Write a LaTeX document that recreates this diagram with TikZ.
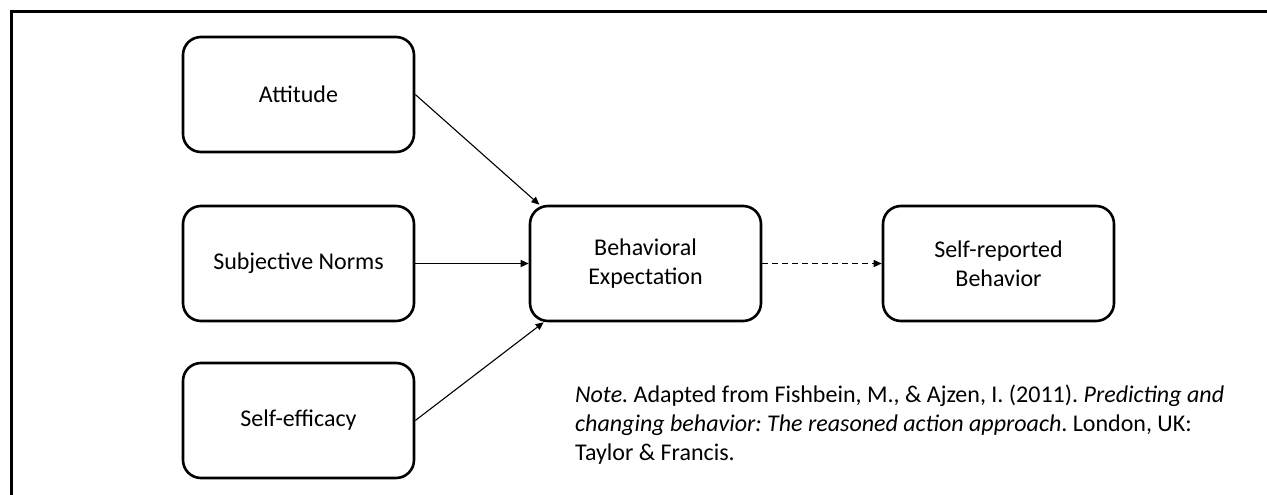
\documentclass[tikz,border=0pt]{standalone}
\usepackage{fontspec}
\setmainfont{Carlito}
\usetikzlibrary{positioning}
\usetikzlibrary{arrows.meta}

\begin{document}
\frenchspacing
\begin{tikzpicture}[x=1pt,y=-1pt,
factor/.style={draw, rounded corners=18pt, line width=2.6pt, minimum width=231pt, minimum height=115pt, align=center, inner sep=0pt, font=\fontsize{24}{29}\selectfont},
arr/.style={line width=1.1pt, -{Triangle[length=8pt,width=7pt]}},
note/.style={align=left, inner sep=0pt, font=\fontsize{24}{29}\selectfont}]
\useasboundingbox (0,0) rectangle (1267,495);

% frame
\draw[line width=2.6pt](11.5,495)--(11.5,11.5)--(1267,11.5);

\node[factor](attitude) at (298.5,94.5){Attitude};
\node[factor](norms) at (298.5,263.5){Subjective Norms};
\node[factor](efficacy) at (298.5,420.5){Self-efficacy};
\node[factor](expect) at (645.5,263.5){Behavioral\\Expectation};
\node[factor](behavior) at (998.5,263.5){Self-reported\\Behavior};

% last line sets the base
\node[note, anchor=base west](source) at (575,460){\textit{Note.} Adapted from Fishbein, M., \& Ajzen, I. (2011). \textit{Predicting and}\\\textit{changing behavior: The reasoned action approach}. London, UK:\\Taylor \& Francis.};

\path
(attitude.east) edge[arr] (expect.151)
(norms) edge[arr] (expect)
(efficacy.east) edge[arr] (expect.210)
(expect) edge[arr, dash pattern=on 6pt off 4pt] (behavior);
\end{tikzpicture}
\end{document}
